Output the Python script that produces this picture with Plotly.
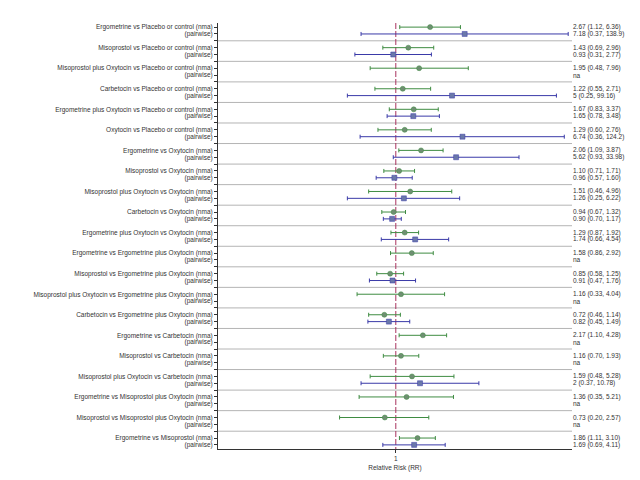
import plotly.graph_objects as go

comparisons = [
    "Ergometrine vs Placebo or control",
    "Misoprostol vs Placebo or control",
    "Misoprostol plus Oxytocin vs Placebo or control",
    "Carbetocin vs Placebo or control",
    "Ergometrine plus Oxytocin vs Placebo or control",
    "Oxytocin vs Placebo or control",
    "Ergometrine vs Oxytocin",
    "Misoprostol vs Oxytocin",
    "Misoprostol plus Oxytocin vs Oxytocin",
    "Carbetocin vs Oxytocin",
    "Ergometrine plus Oxytocin vs Oxytocin",
    "Ergometrine vs Ergometrine plus Oxytocin",
    "Misoprostol vs Ergometrine plus Oxytocin",
    "Misoprostol plus Oxytocin vs Ergometrine plus Oxytocin",
    "Carbetocin vs Ergometrine plus Oxytocin",
    "Ergometrine vs Carbetocin",
    "Misoprostol vs Carbetocin",
    "Misoprostol plus Oxytocin vs Carbetocin",
    "Ergometrine vs Misoprostol plus Oxytocin",
    "Misoprostol vs Misoprostol plus Oxytocin",
    "Ergometrine vs Misoprostol",
]

nma_rr = [2.67, 1.43, 1.95, 1.22, 1.67, 1.29, 2.06, 1.10, 1.51, 0.94, 1.29,
          1.58, 0.85, 1.16, 0.72, 2.17, 1.16, 1.59, 1.36, 0.73, 1.86]
nma_lo = [1.12, 0.69, 0.48, 0.55, 0.83, 0.60, 1.09, 0.71, 0.46, 0.67, 0.87,
          0.86, 0.58, 0.33, 0.46, 1.10, 0.70, 0.48, 0.35, 0.20, 1.11]
nma_hi = [6.36, 2.96, 7.96, 2.71, 3.37, 2.76, 3.87, 1.71, 4.96, 1.32, 1.92,
          2.92, 1.25, 4.04, 1.14, 4.28, 1.93, 5.28, 5.21, 2.57, 3.10]
nma_txt = ["2.67 (1.12, 6.36)", "1.43 (0.69, 2.96)", "1.95 (0.48, 7.96)",
           "1.22 (0.55, 2.71)", "1.67 (0.83, 3.37)", "1.29 (0.60, 2.76)",
           "2.06 (1.09, 3.87)", "1.10 (0.71, 1.71)", "1.51 (0.46, 4.96)",
           "0.94 (0.67, 1.32)", "1.29 (0.87, 1.92)", "1.58 (0.86, 2.92)",
           "0.85 (0.58, 1.25)", "1.16 (0.33, 4.04)", "0.72 (0.46, 1.14)",
           "2.17 (1.10, 4.28)", "1.16 (0.70, 1.93)", "1.59 (0.48, 5.28)",
           "1.36 (0.35, 5.21)", "0.73 (0.20, 2.57)", "1.86 (1.11, 3.10)"]

pw_rr = [7.18, 0.93, None, 5, 1.65, 6.74, 5.62, 0.96, 1.26, 0.90, 1.74,
         None, 0.91, None, 0.82, None, None, 2, None, None, 1.69]
pw_lo = [0.37, 0.31, None, 0.25, 0.78, 0.36, 0.93, 0.57, 0.25, 0.70, 0.66,
         None, 0.47, None, 0.45, None, None, 0.37, None, None, 0.69]
pw_hi = [138.9, 2.77, None, 99.16, 3.48, 124.2, 33.98, 1.60, 6.22, 1.17, 4.54,
         None, 1.76, None, 1.49, None, None, 10.78, None, None, 4.11]
pw_txt = ["7.18 (0.37, 138.9)", "0.93 (0.31, 2.77)", "na", "5 (0.25, 99.16)",
          "1.65 (0.78, 3.48)", "6.74 (0.36, 124.2)", "5.62 (0.93, 33.98)",
          "0.96 (0.57, 1.60)", "1.26 (0.25, 6.22)", "0.90 (0.70, 1.17)",
          "1.74 (0.66, 4.54)", "na", "0.91 (0.47, 1.76)", "na",
          "0.82 (0.45, 1.49)", "na", "na", "2 (0.37, 10.78)", "na", "na",
          "1.69 (0.69, 4.11)"]

n = len(comparisons)
y_nma = [3 * i for i in range(n)]
y_pw = [3 * i + 1 for i in range(n)]
y_sep = [3 * i + 2 for i in range(n - 1)]

GREEN = "#3f8c42"
BLUE = "#3a3aa8"
FONT = "Liberation Sans, Arial, sans-serif"
TXT = "#333333"

fig = go.Figure()

# null line
fig.add_trace(go.Scatter(x=[1, 1], y=[-0.6, 3 * n - 1.4], mode="lines",
                         line=dict(color="#a8325e", width=1, dash="6px,2px"),
                         hoverinfo="skip", showlegend=False))

fig.add_trace(go.Scatter(
    x=nma_rr, y=y_nma, mode="markers",
    marker=dict(symbol="circle", size=5, color="#6f8f72",
                line=dict(color=GREEN, width=0.5)),
    error_x=dict(type="data", symmetric=False,
                 array=[h - r for h, r in zip(nma_hi, nma_rr)],
                 arrayminus=[r - l for r, l in zip(nma_rr, nma_lo)],
                 color=GREEN, thickness=1, width=2),
    showlegend=False))

pw_x, pw_y, pw_p, pw_m = [], [], [], []
for r, l, h, y in zip(pw_rr, pw_lo, pw_hi, y_pw):
    if r is None:
        continue
    pw_x.append(r)
    pw_y.append(y)
    pw_p.append(h - r)
    pw_m.append(r - l)

fig.add_trace(go.Scatter(
    x=pw_x, y=pw_y, mode="markers",
    marker=dict(symbol="square", size=5, color="#6a78aa",
                line=dict(color=BLUE, width=0.5)),
    error_x=dict(type="data", symmetric=False, array=pw_p, arrayminus=pw_m,
                 color=BLUE, thickness=1, width=2),
    showlegend=False))

# separators
for ys in y_sep:
    fig.add_shape(type="line", xref="paper", x0=0, x1=1, yref="y", y0=ys, y1=ys,
                  line=dict(color="#b4b4b4", width=1), layer="below")

# right-side text
for i in range(n):
    for yv, tx in ((y_nma[i], nma_txt[i]), (y_pw[i], pw_txt[i])):
        fig.add_annotation(xref="paper", x=1, xanchor="left", xshift=0,
                           yref="y", y=yv, yanchor="middle",
                           text=tx, showarrow=False, borderpad=0,
                           font=dict(size=6.5, color=TXT, family=FONT))

tickvals, ticktext = [], []
for i in range(n):
    tickvals += [y_nma[i], y_pw[i]]
    ticktext += [comparisons[i] + " (nma)", "(pairwise)"]
    if i < n - 1:
        tickvals.append(y_sep[i])
        ticktext.append("")

fig.update_layout(
    width=632, height=472, autosize=False,
    margin=dict(l=210, r=68, t=15, b=31, autoexpand=False),
    paper_bgcolor="white", plot_bgcolor="white",
    font=dict(family=FONT, size=6.5, color=TXT),
    xaxis=dict(type="log", range=[-2.21, 2.19], tickvals=[1], ticktext=["1"],
               ticks="outside", ticklen=3, tickcolor=TXT, automargin=False,
               showgrid=False, zeroline=False, showline=True,
               linecolor=TXT, linewidth=1, mirror=False,
               title=dict(text="Relative Risk (RR)", standoff=4,
                          font=dict(size=6.5, color=TXT)),
               tickfont=dict(size=6.5, color=TXT)),
    yaxis=dict(range=[3 * n - 1.4, -0.6], tickvals=tickvals, ticktext=ticktext,
               ticks="outside", ticklen=3, tickcolor=TXT, automargin=False,
               showgrid=False, zeroline=False, showline=True,
               linecolor=TXT, linewidth=1,
               tickfont=dict(size=6.5, color=TXT)),
)

fig.write_html("out.html")
